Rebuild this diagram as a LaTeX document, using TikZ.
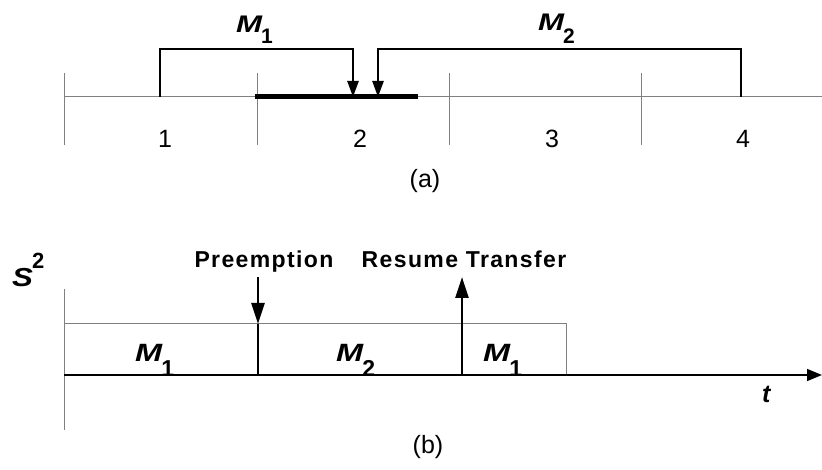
\documentclass[tikz,border=0pt]{standalone}
\usepackage{fontspec}
\setmainfont{Liberation Sans}
\usepackage{graphicx}
\usetikzlibrary{arrows.meta}
\newcommand{\Mlab}[3]{{\bfseries\itshape\scalebox{1.3}[1]{M}}\kern-1pt\raisebox{-#2}{\fontsize{#3}{#3}\selectfont\bfseries #1}}
\begin{document}
\begin{tikzpicture}[x=1pt,y=-1pt,
  thinline/.style={draw=black!50, line width=1pt},
  bracketline/.style={draw=black, line width=2.5pt, line join=miter},
  busyline/.style={draw=black, line width=5pt},
  axisline/.style={draw=black, line width=1.5pt},
  tipA/.style={-{Triangle[length=16pt,width=11pt]}},
  tipB/.style={-{Triangle[length=21pt,width=13pt]}},
  sigarrow/.style={draw=black, line width=2.5pt},
  numlab/.style={anchor=base, inner sep=0pt, font=\fontsize{25}{30}\selectfont},
  mlabA/.style={anchor=base west, inner sep=0pt, font=\fontsize{24}{28}\selectfont},
  mlabB/.style={anchor=base west, inner sep=0pt, font=\fontsize{25}{29}\selectfont},
  evlab/.style={anchor=base, inner sep=0pt, font=\fontsize{23}{27}\selectfont\bfseries\addfontfeature{LetterSpace=6}},
]
\useasboundingbox (0,0) rectangle (822,470);

% ---------- (a) ----------
\coordinate (lineL) at (64,97);
\coordinate (lineR) at (822,97);
\draw[thinline] (lineL) -- (lineR);
\foreach \x [count=\i] in {64,257,449,641} {
  \coordinate (tkT\i) at (\x,73);
  \coordinate (tkB\i) at (\x,145);
  \draw[thinline] (tkT\i) -- (tkB\i);
}
\coordinate (busyL) at (255,97);
\coordinate (busyR) at (418,97);
\draw[busyline] (busyL) -- (busyR);

\coordinate (m1s) at (160,97);
\coordinate (m1c) at (353,49);
\coordinate (m1e) at (353,97);
\draw[bracketline,tipA] (m1s) |- (m1c) -- (m1e);

\coordinate (m2s) at (741,97);
\coordinate (m2c) at (378,49);
\coordinate (m2e) at (378,97);
\draw[bracketline,tipA] (m2s) |- (m2c) -- (m2e);

\node[mlabA] (labM1a) at (236,33) {\Mlab{1}{11pt}{21}};
\node[mlabA] (labM2a) at (538,31) {\Mlab{2}{13pt}{21}};

\node[numlab] (n1) at (165,148) {1};
\node[numlab] (n2) at (360,148) {2};
\node[numlab] (n3) at (552,148) {3};
\node[numlab] (n4) at (743,148) {4};
\node[numlab] (capa) at (425,188) {(a)};

% ---------- (b) ----------
\coordinate (vaT) at (64,289);
\coordinate (vaB) at (64,430);
\draw[thinline] (vaT) -- (vaB);

\coordinate (boxTL) at (64,324);
\coordinate (boxTR) at (566,324);
\coordinate (boxBR) at (566,375);
\draw[thinline] (boxTL) -- (boxTR) -- (boxBR);

\coordinate (taL) at (64,375);
\coordinate (taR) at (822,375);
\draw[axisline,-{Triangle[length=15pt,width=12pt]}] (taL) -- (taR);

\coordinate (d1T) at (258,324);
\coordinate (d1B) at (258,375);
\coordinate (d2T) at (462,324);
\coordinate (d2B) at (462,375);
\draw[axisline] (d1T) -- (d1B);
\draw[axisline] (d2T) -- (d2B);

\coordinate (preS) at (258,277);
\draw[sigarrow,tipB] (preS) -- (d1T);
\coordinate (resE) at (462,277);
\draw[sigarrow,tipB] (d2T) -- (resE);

\node[evlab] (pre) at (264,268) {Preemption};
\node[evlab] (res) at (464,268) {Resume Transfer};

\node[anchor=base west, inner sep=0pt, font=\fontsize{26}{30}\selectfont\bfseries\itshape] (S) at (12,287) {\scalebox{1.2}[1]{S}};
\node[anchor=base west, inner sep=0pt, font=\fontsize{22}{26}\selectfont\bfseries] (S2) at (32,269) {2};

\node[mlabB] (bM1) at (135,361) {\Mlab{1}{15pt}{23}};
\node[mlabB] (bM2) at (336,361) {\Mlab{2}{15pt}{23}};
\node[mlabB] (bM3) at (483,361) {\Mlab{1}{15pt}{23}};

\node[anchor=base west, inner sep=0pt, font=\fontsize{25}{30}\selectfont\bfseries\itshape] (tlab) at (762,402) {t};
\node[numlab] (capb) at (428,453) {(b)};
\end{tikzpicture}
\end{document}
